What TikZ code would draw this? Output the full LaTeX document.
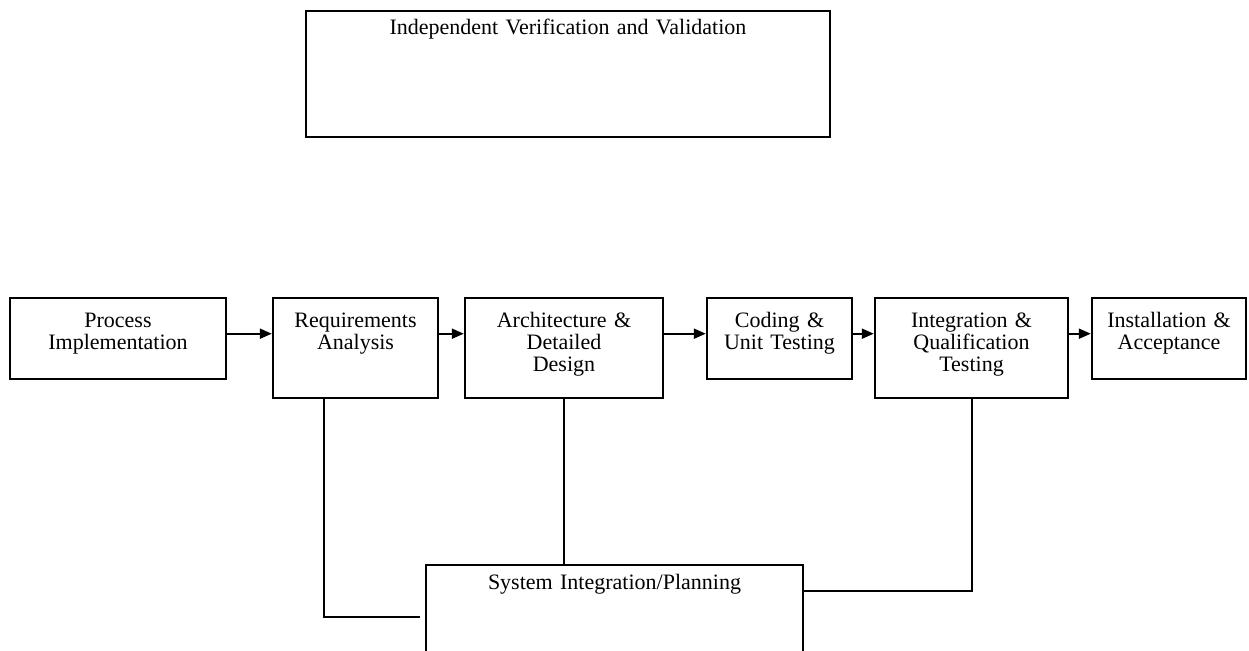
\documentclass[tikz,border=0pt]{standalone}
\usepackage{fontspec}
\setmainfont{Liberation Serif}
\usetikzlibrary{arrows.meta}

\begin{document}
\begin{tikzpicture}[x=0.5pt,y=-0.5pt,font=\fontsize{11}{11}\selectfont,box/.style={draw,line width=1.2pt,anchor=north,inner sep=0pt,align=center,text height=14.5pt},a/.style={-{Triangle[length=6pt,width=5pt]},line width=1pt},l/.style={line width=1pt}]
\useasboundingbox (0,0) rectangle (1249,651);
\node[box,text width=262pt,text height=11.5pt,text depth=51.5pt] (ivv) at (568,10) {Independent Verification and Validation};
\node[box,text width=108pt,text depth=26pt] (proc) at (118,297) {Process\\Implementation};
\node[box,text width=82.5pt,text depth=35.5pt] (req) at (355.5,297) {Requirements\\Analysis};
\node[box,text width=99pt,text depth=35.5pt] (arch) at (564,297) {Architecture \&\\Detailed\\Design};
\node[box,text width=72.5pt,text depth=26pt] (code) at (779.5,297) {Coding \&\\Unit Testing};
\node[box,text width=96.5pt,text depth=35.5pt] (integ) at (971.5,297) {Integration \&\\Qualification\\Testing};
\node[box,text width=77pt,text depth=26pt] (inst) at (1169,297) {Installation \&\\Acceptance};
\node[box,text width=188.5pt,text height=12pt,text depth=40pt] (plan) at (614.5,564) {System Integration/Planning};
% main flow
\coordinate (flow) at ([yshift=2.5pt]proc.east);
\draw[a] (flow) -- (flow -| req.west);
\draw[a] (flow -| req.east) -- (flow -| arch.west);
\draw[a] (flow -| arch.east) -- (flow -| code.west);
\draw[a] (flow -| code.east) -- (flow -| integ.west);
\draw[a] (flow -| integ.east) -- (flow -| inst.west);
% links to planning
\draw[l] ([xshift=-16pt]req.south) |- ([xshift=-2.5pt]plan.west);
\draw[l] (arch.south) -- (arch.south |- plan.north);
\draw[l] (integ.south) |- ([yshift=13pt]plan.east);
\end{tikzpicture}
\end{document}
